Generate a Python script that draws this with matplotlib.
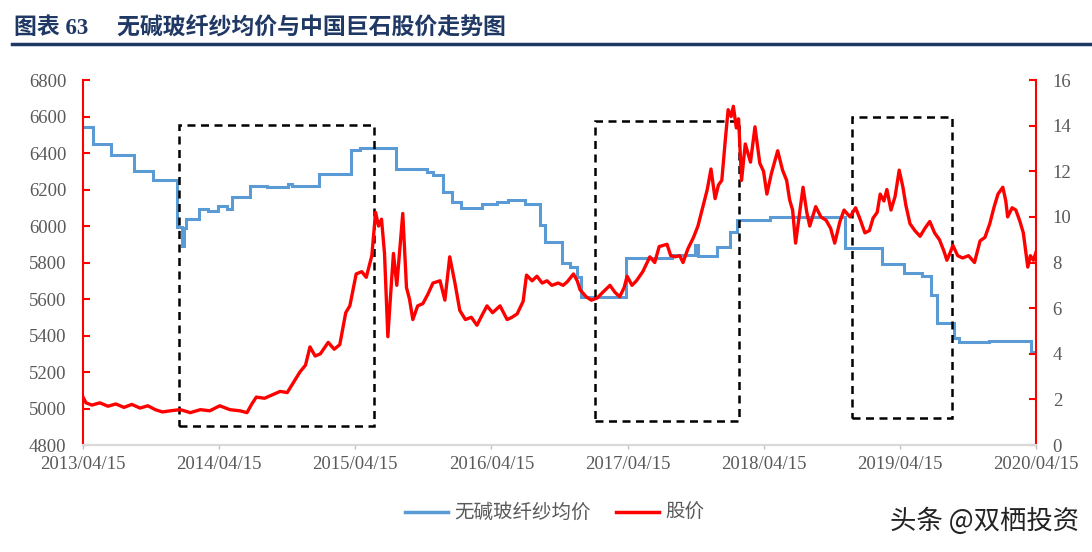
import matplotlib
matplotlib.use("Agg")
import matplotlib.pyplot as plt
import matplotlib.dates as mdates
import pandas as pd
from matplotlib.patches import Rectangle
from matplotlib.lines import Line2D

# 无碱玻纤纱均价 (left axis, step series)
yarn_dates = ["2013-04-15", "2013-05-12", "2013-06-29", "2013-08-30", "2013-10-20",
              "2013-12-23", "2014-01-06", "2014-01-10", "2014-01-16", "2014-02-20",
              "2014-03-16", "2014-04-12", "2014-05-06", "2014-05-20", "2014-07-07",
              "2014-08-22", "2014-10-17", "2014-10-27", "2015-01-08", "2015-04-04",
              "2015-04-28", "2015-08-02", "2015-10-24", "2015-11-09", "2015-12-06",
              "2015-12-30", "2016-01-23", "2016-03-20", "2016-04-30", "2016-05-29",
              "2016-07-14", "2016-08-23", "2016-09-06", "2016-10-21", "2016-11-12",
              "2016-12-01", "2016-12-12", "2017-04-11", "2017-08-12", "2017-10-13",
              "2017-10-20", "2017-12-11", "2018-01-15", "2018-02-03", "2018-05-02",
              "2018-11-19", "2019-02-28", "2019-04-28", "2019-06-15", "2019-07-09",
              "2019-07-25", "2019-09-09", "2019-09-22", "2019-12-12", "2020-04-01",
              "2020-04-15"]
yarn_price = [6540, 6450, 6390, 6300, 6250,
              5995, 5890, 5990, 6040, 6095,
              6085, 6110, 6093, 6160, 6220,
              6212, 6230, 6220, 6285, 6416,
              6426, 6311, 6294, 6278, 6188,
              6133, 6097, 6119, 6133, 6142,
              6121, 6005, 5914, 5796, 5777,
              5720, 5613, 5827, 5841, 5896,
              5835, 5887, 5969, 6033, 6048,
              5878, 5790, 5744, 5726, 5622,
              5467, 5385, 5366, 5372, 5310,
              5310]

# 股价 (right axis)
stock_dates = [
    "2013-04-15", "2013-04-23", "2013-05-09", "2013-05-30", "2013-06-21", "2013-07-12", "2013-08-03", "2013-08-24", "2013-09-15", "2013-10-06",
    "2013-10-26", "2013-11-14", "2013-12-05", "2014-01-01", "2014-01-28", "2014-02-24", "2014-03-21", "2014-04-17", "2014-05-14", "2014-06-10",
    "2014-06-29", "2014-07-12", "2014-07-24", "2014-08-15", "2014-09-05", "2014-09-26", "2014-10-15", "2014-10-30", "2014-11-18", "2014-12-03",
    "2014-12-15", "2014-12-29", "2015-01-12", "2015-02-02", "2015-02-18", "2015-03-05", "2015-03-21", "2015-04-01", "2015-04-18", "2015-05-03",
    "2015-05-15", "2015-05-30", "2015-06-09", "2015-06-17", "2015-06-25", "2015-07-03", "2015-07-12", "2015-07-19", "2015-07-27", "2015-08-05",
    "2015-08-13", "2015-08-21", "2015-08-31", "2015-09-08", "2015-09-17", "2015-09-30", "2015-10-14", "2015-10-27", "2015-11-10", "2015-11-29",
    "2015-12-12", "2015-12-25", "2016-01-08", "2016-01-21", "2016-02-05", "2016-02-21", "2016-03-07", "2016-03-21", "2016-04-03", "2016-04-18",
    "2016-05-08", "2016-05-27", "2016-06-09", "2016-06-23", "2016-07-09", "2016-07-18", "2016-08-02", "2016-08-15", "2016-08-29", "2016-09-11",
    "2016-09-24", "2016-10-11", "2016-10-24", "2016-11-04", "2016-11-21", "2016-12-01", "2016-12-09", "2016-12-25", "2017-01-08", "2017-01-24",
    "2017-02-08", "2017-02-27", "2017-03-12", "2017-03-25", "2017-04-06", "2017-04-14", "2017-04-27", "2017-05-09", "2017-05-26", "2017-06-14",
    "2017-06-27", "2017-07-09", "2017-07-30", "2017-08-09", "2017-08-21", "2017-09-02", "2017-09-11", "2017-09-24", "2017-10-09", "2017-10-21",
    "2017-11-04", "2017-11-15", "2017-11-25", "2017-12-06", "2017-12-15", "2017-12-24", "2018-01-02", "2018-01-10", "2018-01-18", "2018-01-24",
    "2018-02-01", "2018-02-07", "2018-02-15", "2018-02-25", "2018-03-11", "2018-03-23", "2018-04-05", "2018-04-15", "2018-04-24", "2018-05-06",
    "2018-05-23", "2018-06-05", "2018-06-16", "2018-06-24", "2018-07-02", "2018-07-10", "2018-07-21", "2018-07-30", "2018-08-09", "2018-08-17",
    "2018-09-02", "2018-09-16", "2018-09-30", "2018-10-12", "2018-10-23", "2018-11-06", "2018-11-17", "2018-12-03", "2018-12-18", "2018-12-30",
    "2019-01-12", "2019-01-24", "2019-02-03", "2019-02-14", "2019-02-22", "2019-03-04", "2019-03-12", "2019-03-23", "2019-04-03", "2019-04-14",
    "2019-04-24", "2019-05-02", "2019-05-13", "2019-05-26", "2019-06-09", "2019-06-22", "2019-07-05", "2019-07-18", "2019-07-31", "2019-08-12",
    "2019-08-20", "2019-08-28", "2019-09-05", "2019-09-18", "2019-10-01", "2019-10-17", "2019-11-02", "2019-11-17", "2019-11-30", "2019-12-13",
    "2019-12-24", "2020-01-04", "2020-01-17", "2020-01-25", "2020-01-30", "2020-02-11", "2020-02-21", "2020-03-03", "2020-03-12", "2020-03-24",
    "2020-03-31", "2020-04-08", "2020-04-15"]
stock_price = [
    2.1, 1.85, 1.75, 1.85, 1.7, 1.8, 1.65, 1.78, 1.62, 1.72,
    1.55, 1.45, 1.5, 1.55, 1.42, 1.55, 1.5, 1.72, 1.55, 1.5,
    1.42, 1.8, 2.1, 2.05, 2.2, 2.35, 2.3, 2.7, 3.2, 3.5,
    4.3, 3.9, 4.0, 4.5, 4.2, 4.4, 5.8, 6.1, 7.5, 7.6,
    7.35, 8.3, 10.2, 9.6, 9.9, 8.4, 4.75, 6.5, 8.4, 7.0,
    8.6, 10.15, 6.9, 6.4, 5.5, 6.1, 6.2, 6.6, 7.1, 7.2,
    6.35, 8.25, 7.1, 5.9, 5.5, 5.6, 5.25, 5.7, 6.1, 5.8,
    6.1, 5.5, 5.6, 5.75, 6.3, 7.45, 7.2, 7.4, 7.1, 7.2,
    7.0, 7.1, 7.0, 7.15, 7.5, 7.2, 6.8, 6.5, 6.35, 6.45,
    6.7, 7.0, 6.7, 6.5, 6.9, 7.4, 7.0, 7.2, 7.6, 8.25,
    8.0, 8.7, 8.8, 8.3, 8.25, 8.3, 8.0, 8.6, 9.1, 9.6,
    10.5, 11.2, 12.1, 10.8, 11.4, 11.6, 13.3, 14.7, 14.4, 14.85,
    13.9, 14.3, 11.6, 13.2, 12.4, 13.95, 12.35, 12.0, 11.0, 11.9,
    12.9, 12.05, 11.6, 10.75, 10.3, 8.85, 10.2, 11.3, 10.2, 9.6,
    10.45, 10.0, 9.85, 9.5, 8.85, 9.8, 10.3, 10.0, 10.4, 9.9,
    9.3, 9.4, 9.95, 10.2, 11.0, 10.7, 11.2, 10.3, 10.9, 12.05,
    11.3, 10.5, 9.7, 9.4, 9.15, 9.5, 9.8, 9.3, 9.0, 8.5,
    8.1, 8.4, 8.75, 8.3, 8.2, 8.3, 8.0, 8.95, 9.1, 9.7,
    10.4, 11.0, 11.3, 10.7, 10.0, 10.4, 10.3, 9.8, 9.3, 7.8,
    8.3, 8.1, 8.45]

# dashed highlight boxes: (start, end, low, high) on the left axis
box_start = ["2013-12-29", "2017-01-17", "2018-12-09"]
box_end = ["2015-06-06", "2018-02-09", "2019-09-04"]
box_low = [4904, 4932, 4950]
box_high = [6553, 6577, 6596]

xtick_dates = ["2013-04-15", "2014-04-15", "2015-04-15", "2016-04-15",
               "2017-04-15", "2018-04-15", "2019-04-15", "2020-04-15"]

BLUE = "#5b9bd5"
RED = "#ff0000"
GREY = "#595959"
NAVY = "#1f3864"
serif = ["Liberation Serif", "Noto Sans CJK SC"]
cjk = ["Noto Sans CJK SC", "DejaVu Sans"]

fig = plt.figure(figsize=(10.92, 5.52), dpi=100)
ax1 = fig.add_axes([0.076, 0.1938, 0.8727, 0.6612])
ax2 = ax1.twinx()

ax1.plot(pd.to_datetime(yarn_dates), yarn_price, color=BLUE, lw=2.2,
         drawstyle="steps-post", solid_joinstyle="miter")
ax2.plot(pd.to_datetime(stock_dates), stock_price, color=RED, lw=2.4)

for s, e, lo, hi in zip(box_start, box_end, box_low, box_high):
    x0 = mdates.date2num(pd.Timestamp(s))
    x1 = mdates.date2num(pd.Timestamp(e))
    ax1.add_patch(Rectangle((x0, lo), x1 - x0, hi - lo, fill=False,
                            ec="black", lw=1.8, ls=(0, (3.2, 2.2)), zorder=5))

xt = pd.to_datetime(xtick_dates)
ax1.set_xlim(xt[0], xt[-1])
ax1.set_ylim(4800, 6800)
ax2.set_ylim(0, 16)
ax1.set_yticks(range(4800, 6801, 200))
ax2.set_yticks(range(0, 17, 2))
ax1.set_xticks(xt)
ax1.xaxis.set_major_formatter(mdates.DateFormatter("%Y/%m/%d"))

for ax in (ax1, ax2):
    ax.spines["top"].set_visible(False)
    ax.spines["bottom"].set_color("#d9d9d9")
    ax.spines["bottom"].set_linewidth(1.5)
ax1.spines["right"].set_visible(False)
ax2.spines["left"].set_visible(False)
ax1.spines["left"].set_color(RED)
ax1.spines["left"].set_linewidth(1.5)
ax2.spines["right"].set_color(RED)
ax2.spines["right"].set_linewidth(1.5)

ax1.tick_params(axis="y", direction="in", length=5, width=1.5, color=RED,
                labelcolor=GREY, labelsize=13.5, pad=12)
ax2.tick_params(axis="y", direction="in", length=5, width=1.5, color=RED,
                labelcolor=GREY, labelsize=13.5, pad=12)
ax1.tick_params(axis="x", direction="out", length=3, width=1, color="#bfbfbf",
                labelcolor=GREY, labelsize=13.5, pad=5)
for lab in ax1.get_xticklabels() + ax1.get_yticklabels() + ax2.get_yticklabels():
    lab.set_fontfamily(serif)

# title and rule
fig.text(0.013, 0.948, "图表 63     无碱玻纤纱均价与中国巨石股价走势图", family=serif,
         fontsize=16.5, fontweight="bold", color=NAVY, va="center", ha="left")
fig.add_artist(Line2D([0.011, 1.0], [0.921, 0.921], transform=fig.transFigure,
                      color=NAVY, lw=2.5))

handles = [Line2D([], [], color=BLUE, lw=2.5), Line2D([], [], color=RED, lw=2.5)]
fig.legend(handles, ["无碱玻纤纱均价", "股价"], loc="center", ncol=2,
           bbox_to_anchor=(0.508, 0.071), frameon=False, handlelength=2.2,
           handletextpad=0.35, columnspacing=1.3,
           prop={"family": cjk, "size": 14}, labelcolor=GREY)

fig.text(0.988, 0.056, "头条 @双栖投资", family=cjk, fontsize=19,
         color="#222222", ha="right", va="center")

fig.savefig("out.png", dpi=100)
